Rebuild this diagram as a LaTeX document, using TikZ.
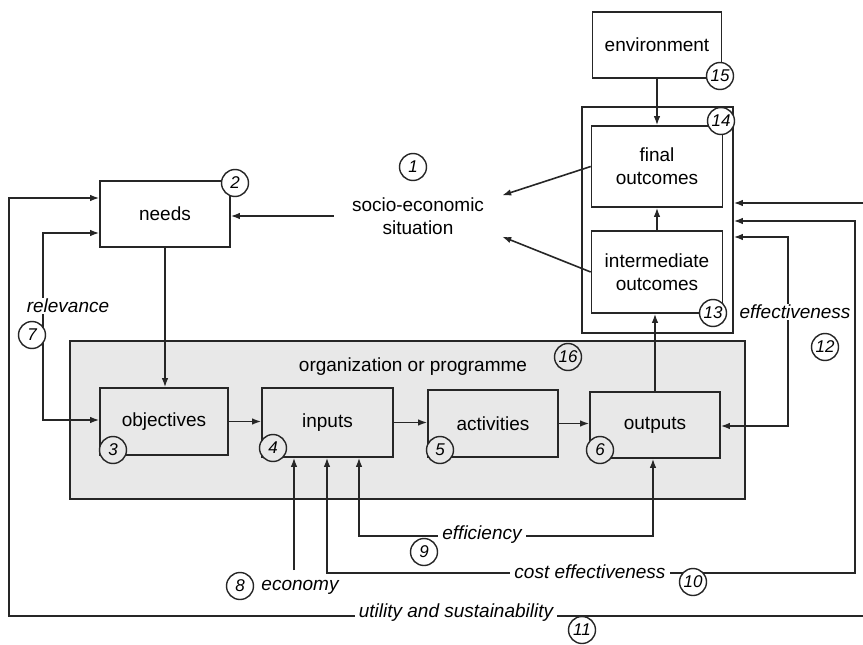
\documentclass[tikz,border=0pt]{standalone}
\usepackage{fontspec}
\setmainfont{Liberation Sans}
\usetikzlibrary{arrows.meta}
\begin{document}
\begin{tikzpicture}[x=1pt,y=-1pt,
  >={Latex[length=9pt,width=6.5pt]},
  bx/.style={draw=black!85, line width=1.6pt, inner sep=0pt, align=center, font=\fontsize{19}{23}\selectfont},
  num/.style={circle, draw=black!85, line width=1.4pt, fill=white, inner sep=0pt, minimum size=27pt, font=\fontsize{17}{17}\selectfont\itshape},
  numg/.style={num, fill=black!9},
  lab/.style={fill=white, inner xsep=4pt, inner ysep=1pt, font=\fontsize{19}{19}\selectfont\itshape},
  conn/.style={draw=black!85, line width=1.6pt}]
\useasboundingbox (0,0) rectangle (863,645);
\fill[white] (0,0) rectangle (863,645);
% organization box
\node[bx, minimum width=675, minimum height=158, fill=black!9] (org) at (407.5,420) {};
\node[font=\fontsize{19}{23}\selectfont] (orgt) at (413,367) {organization or programme};
% outcomes container and boxes
\node[bx, minimum width=151, minimum height=226, fill=white] (outc) at (657.5,220) {};
\node[bx, minimum width=129, minimum height=66, fill=white] (env) at (657,45) {environment};
\node[bx, minimum width=131, minimum height=81, fill=white] (final) at (657,166.5) {final\\outcomes};
\node[bx, minimum width=131, minimum height=82, fill=white] (inter) at (657,272) {intermediate\\outcomes};
\node[bx, minimum width=130, minimum height=66, fill=white] (needs) at (165,214) {needs};
\node[bx, minimum width=128, minimum height=67] (obj) at (164,421.5) {objectives};
\node[bx, minimum width=131, minimum height=69] (inputs) at (327.5,422.5) {inputs};
\node[bx, minimum width=130, minimum height=67] (act) at (493,423.5) {activities};
\node[bx, minimum width=130, minimum height=66] (outputs) at (655,425) {outputs};
\node[align=center, font=\fontsize{19}{23}\selectfont, inner xsep=18pt, inner ysep=2pt] (sit) at (418,216) {socio-economic\\situation};
% connectors
\begin{scope}[conn]
\draw[->] (env.south) -- (final.north);
\draw[->] (inter.north) -- (final.south);
\draw[->] (outputs.north) -- (outputs.north |- inter.south);
\draw[->] (final.west) -- (sit.north east);
\draw[->] (inter.west) -- (sit.south east);
\draw[->] (sit.west) -- (sit.west -| needs.east);
\draw[->] (needs.south) -- (needs.south |- obj.north);
\draw[->] (obj.east) -- (obj.east -| inputs.west);
\draw[->] (inputs.east) -- (inputs.east -| act.west);
\draw[->] (act.east) -- (act.east -| outputs.west);
% relevance
\draw[<->] (needs.west |- 0,233) -| (43,420) -- (obj.west |- 0,420);
% utility and sustainability
\draw[<->] (needs.west |- 0,198) -| (9,616) -| (867,203) -- (outc.east |- 0,203);
% cost effectiveness
\draw[<->] (327,0 |- inputs.south) -- (327,573) -| (855,221) -- (outc.east |- 0,221);
% efficiency
\draw[<->] (359,0 |- inputs.south) -- (359,536) -| (653,0 |- outputs.south);
% economy
\coordinate (eco) at (294,570);
\draw[->] (eco) -- (eco |- inputs.south);
% effectiveness
\draw[<->] (outputs.east |- 0,426) -| (788,237) -- (outc.east |- 0,237);
\end{scope}
% labels
\node[lab] (lrel) at (68,306) {relevance};
\node[lab] (leff) at (795,312) {effectiveness};
\node[lab, fill=none] (leco) at (300,587) {economy};
\node[lab] (lefc) at (482,535) {efficiency};
\node[lab] (lcost) at (590,572) {cost effectiveness};
\node[lab] (lutil) at (456,613) {utility and sustainability};
% numbers
\node[num] (n1) at (413,167) {1};
\node[num] (n2) at (235,183) {2};
\node[numg] (n3) at (113,450) {3};
\node[numg] (n4) at (273,448) {4};
\node[numg] (n5) at (440,450) {5};
\node[numg] (n6) at (600,450) {6};
\node[num] (n7) at (32,335) {7};
\node[num] (n8) at (240,586) {8};
\node[num] (n9) at (424,552) {9};
\node[num] (n10) at (693,582) {10};
\node[num] (n11) at (582,630) {11};
\node[num] (n12) at (825,347) {12};
\node[num] (n13) at (713,313) {13};
\node[num] (n14) at (721,121) {14};
\node[num] (n15) at (720,76) {15};
\node[numg] (n16) at (568,357) {16};
\end{tikzpicture}
\end{document}
